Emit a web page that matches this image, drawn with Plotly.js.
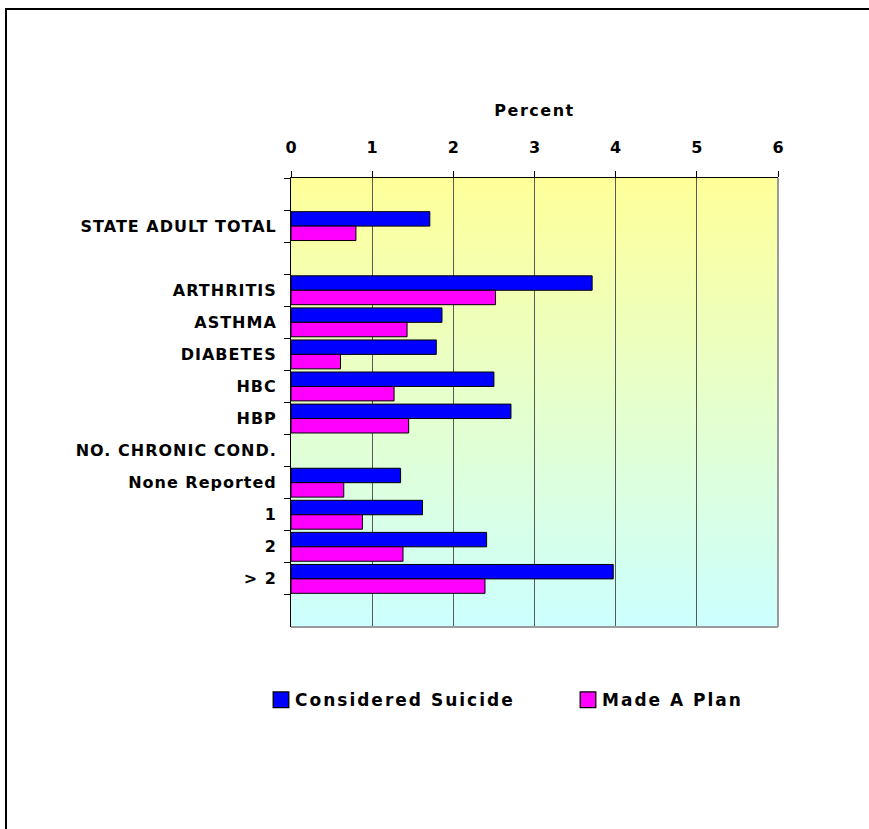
<!DOCTYPE html>
<html>
<head>
<meta charset="utf-8">
<script src="https://cdn.plot.ly/plotly-3.0.1.min.js"></script>
<style>
  html, body { margin: 0; padding: 0; background: #ffffff; }
  #wrap { position: relative; width: 869px; height: 829px; overflow: hidden; }
  #chart { width: 869px; height: 829px; }
  #frame {
    position: absolute; left: 5px; top: 8px; width: 900px; height: 900px;
    border-left: 2px solid #000; border-top: 2px solid #000;
    pointer-events: none;
  }
  /* wide, tracked-out bold lettering */
  #chart .ytick text { letter-spacing: 1px; }
  #chart .xtitle { letter-spacing: 1.5px; }
  #chart .legendtext { letter-spacing: 2px; }
</style>
</head>
<body>
<div id="wrap">
  <div id="chart"></div>
  <div id="frame"></div>
</div>
<script>
// Rows from top to bottom; whitespace-only names are spacer rows.
const categories = [
  ' ', 'STATE ADULT TOTAL', '  ',
  'ARTHRITIS', 'ASTHMA', 'DIABETES', 'HBC', 'HBP',
  'NO. CHRONIC COND.', 'None Reported', '1', '2', '> 2', '   '
];

// Percent of adults, by condition
const consideredSuicide = [null, 1.71, null, 3.71, 1.86, 1.79, 2.50, 2.71, null, 1.35, 1.62, 2.41, 3.97, null];
const madeAPlan         = [null, 0.80, null, 2.52, 1.43, 0.61, 1.27, 1.45, null, 0.65, 0.88, 1.38, 2.39, null];

const seriesNames = ['Considered Suicide', 'Made A Plan'];
const xTicks = [0, 1, 2, 3, 4, 5, 6];

const labelFont = { family: 'DejaVu Sans, Verdana, sans-serif', size: 16, color: '#000', weight: 'bold' };

const traces = [
  {
    type: 'bar', orientation: 'h', name: seriesNames[0],
    y: categories, x: consideredSuicide,
    marker: { color: '#0000FF', line: { color: '#000', width: 1 } },
    hoverinfo: 'x+y'
  },
  {
    type: 'bar', orientation: 'h', name: seriesNames[1],
    y: categories, x: madeAPlan,
    marker: { color: '#FF00FF', line: { color: '#000', width: 1 } },
    hoverinfo: 'x+y'
  }
];

// vertical yellow-to-cyan wash behind the plot area
const gradSvg =
  "<svg xmlns='http://www.w3.org/2000/svg' width='10' height='100' preserveAspectRatio='none'>" +
  "<defs><linearGradient id='g' x1='0' y1='0' x2='0' y2='1'>" +
  "<stop offset='0' stop-color='#FFFF99'/><stop offset='1' stop-color='#CCFFFF'/>" +
  "</linearGradient></defs><rect width='10' height='100' fill='url(#g)'/></svg>";
const gradUri = 'data:image/svg+xml;charset=utf-8,' + encodeURIComponent(gradSvg);

const layout = {
  width: 869, height: 829,
  margin: { l: 291, r: 91, t: 178, b: 202, pad: 0 },
  paper_bgcolor: '#ffffff',
  plot_bgcolor: 'rgba(0,0,0,0)',
  barmode: 'group',
  bargap: 0.1,
  bargroupgap: 0,
  font: labelFont,
  showlegend: true,
  legend: {
    orientation: 'h',
    x: -0.015, xanchor: 'left',
    y: -0.163, yanchor: 'middle',
    traceorder: 'normal',
    entrywidthmode: 'pixels', entrywidth: 262,
    font: { family: 'DejaVu Sans, Verdana, sans-serif', size: 17, color: '#000', weight: 'bold' },
    bgcolor: 'rgba(0,0,0,0)'
  },
  xaxis: {
    side: 'top',
    range: [0, 6],
    tickvals: xTicks,
    ticktext: xTicks.map(String),
    ticks: 'outside', ticklen: 6, tickcolor: '#000', tickwidth: 1,
    tickfont: labelFont,
    ticklabelstandoff: 12,
    showline: true, linecolor: '#000', linewidth: 1,
    showgrid: true, gridcolor: '#5a5a5a', gridwidth: 1,
    zeroline: false,
    title: { text: 'Percent', font: labelFont, standoff: 16 }
  },
  yaxis: {
    type: 'category',
    categoryorder: 'array', categoryarray: categories,
    range: [categories.length - 0.5, -0.5],
    ticks: 'outside', tickson: 'boundaries', ticklen: 6, tickcolor: '#000', tickwidth: 1,
    tickfont: labelFont,
    ticklabelstandoff: 10,
    showline: true, linecolor: '#000', linewidth: 1,
    showgrid: false, zeroline: false
  },
  images: [{
    source: gradUri, xref: 'paper', yref: 'paper',
    x: 0, y: 1, sizex: 1, sizey: 1,
    xanchor: 'left', yanchor: 'top',
    sizing: 'stretch', layer: 'below'
  }],
  shapes: [
    { type: 'line', xref: 'paper', yref: 'paper', x0: 1, x1: 1, y0: 0, y1: 1,
      line: { color: '#9a9a9a', width: 2 }, layer: 'above' },
    { type: 'line', xref: 'paper', yref: 'paper', x0: 0, x1: 1, y0: 0, y1: 0,
      line: { color: '#9a9a9a', width: 2 }, layer: 'above' }
  ]
};

Plotly.newPlot('chart', traces, layout, { displayModeBar: false, staticPlot: true }).then(function (gd) {
  // larger legend swatches, sitting closer to their labels
  gd.querySelectorAll('.legendpoints path').forEach(function (p) {
    const base = p.getAttribute('transform') || '';
    p.setAttribute('transform', base + ' translate(6,0) scale(1.3)');
  });
});
</script>
</body>
</html>
